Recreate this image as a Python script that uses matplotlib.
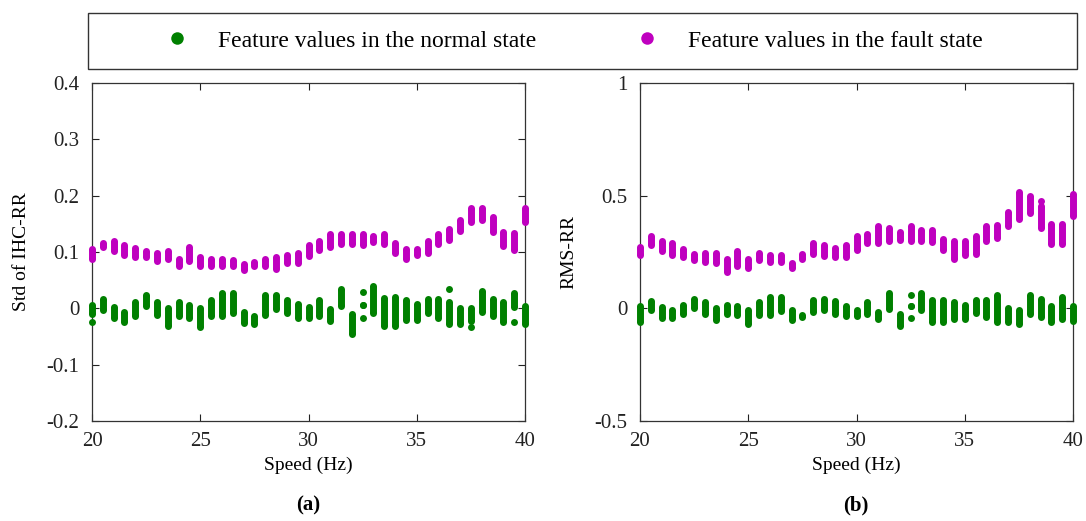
import matplotlib
matplotlib.use("Agg")
import matplotlib.pyplot as plt
from matplotlib.lines import Line2D
from matplotlib.patches import Rectangle

plt.rcParams["font.family"] = ["Liberation Serif", "DejaVu Serif"]

# speed points (Hz)
speeds = [20.0, 20.5, 21.0, 21.5, 22.0, 22.5, 23.0, 23.5, 24.0, 24.5,
          25.0, 25.5, 26.0, 26.5, 27.0, 27.5, 28.0, 28.5, 29.0, 29.5,
          30.0, 30.5, 31.0, 31.5, 32.0, 32.5, 33.0, 33.5, 34.0, 34.5,
          35.0, 35.5, 36.0, 36.5, 37.0, 37.5, 38.0, 38.5, 39.0, 39.5, 40.0]

# (a) Std of IHC-RR: per-speed spread of feature values
std_fault_lo = [0.088, 0.108, 0.102, 0.094, 0.091, 0.091, 0.084, 0.088, 0.075, 0.084,
                0.076, 0.076, 0.075, 0.076, 0.068, 0.076, 0.075, 0.070, 0.081, 0.081,
                0.093, 0.104, 0.109, 0.115, 0.115, 0.112, 0.118, 0.114, 0.098, 0.088,
                0.094, 0.098, 0.115, 0.122, 0.138, 0.153, 0.156, 0.136, 0.110, 0.104, 0.153]
std_fault_hi = [0.105, 0.116, 0.119, 0.113, 0.107, 0.101, 0.098, 0.102, 0.088, 0.109,
                0.092, 0.088, 0.088, 0.085, 0.079, 0.082, 0.088, 0.091, 0.095, 0.099,
                0.113, 0.119, 0.132, 0.132, 0.132, 0.132, 0.129, 0.132, 0.116, 0.105,
                0.105, 0.119, 0.132, 0.140, 0.156, 0.178, 0.178, 0.163, 0.135, 0.134, 0.178]
std_normal_lo = [-0.010, -0.003, -0.018, -0.024, -0.014, 0.004, -0.011, -0.032, -0.014, -0.018,
                 -0.034, -0.014, -0.014, -0.008, -0.026, -0.028, -0.011, -0.001, -0.008, -0.018,
                 -0.017, -0.014, -0.022, 0.004, -0.045, 0.006, -0.008, -0.032, -0.032, -0.020,
                 -0.020, -0.008, -0.017, -0.027, -0.028, -0.023, -0.007, -0.014, -0.025, 0.002, -0.027]
std_normal_hi = [0.006, 0.017, 0.002, -0.007, 0.011, 0.024, 0.011, 0.001, 0.011, 0.006,
                 0.001, 0.015, 0.028, 0.028, -0.007, -0.014, 0.024, 0.024, 0.015, 0.008,
                 0.002, 0.014, -0.002, 0.034, -0.010, 0.006, 0.040, 0.018, 0.020, 0.014,
                 0.008, 0.017, 0.017, 0.012, 0.001, 0.001, 0.030, 0.017, 0.012, 0.027, 0.004]
# isolated samples away from their group
std_normal_extra_x = [20.0, 32.5, 32.5, 36.5, 37.5, 39.5]
std_normal_extra_y = [-0.025, 0.029, -0.017, 0.034, -0.033, -0.024]

# (b) RMS-RR
rms_fault_lo = [0.235, 0.280, 0.254, 0.235, 0.228, 0.213, 0.206, 0.201, 0.161, 0.187,
                0.180, 0.213, 0.206, 0.206, 0.180, 0.220, 0.240, 0.231, 0.228, 0.226,
                0.260, 0.290, 0.290, 0.299, 0.305, 0.299, 0.299, 0.294, 0.258, 0.220,
                0.235, 0.240, 0.299, 0.313, 0.364, 0.398, 0.423, 0.358, 0.287, 0.287, 0.408]
rms_fault_hi = [0.272, 0.322, 0.297, 0.290, 0.263, 0.242, 0.246, 0.246, 0.219, 0.253,
                0.219, 0.246, 0.238, 0.238, 0.201, 0.242, 0.290, 0.282, 0.268, 0.282,
                0.322, 0.331, 0.364, 0.357, 0.337, 0.367, 0.349, 0.346, 0.308, 0.298,
                0.298, 0.322, 0.367, 0.371, 0.426, 0.515, 0.500, 0.455, 0.376, 0.376, 0.509]
rms_fault_extra_x = [38.5]
rms_fault_extra_y = [0.477]
rms_normal_lo = [-0.061, -0.009, -0.042, -0.042, -0.024, 0.003, -0.024, -0.053, -0.024, -0.031,
                 -0.068, -0.031, -0.031, -0.012, -0.050, -0.038, -0.016, -0.009, -0.024, -0.035,
                 -0.035, -0.024, -0.046, -0.002, -0.080, 0.010, -0.009, -0.061, -0.061, -0.046,
                 -0.046, -0.021, -0.038, -0.061, -0.061, -0.071, -0.024, -0.038, -0.061, -0.046, -0.056]
rms_normal_hi = [0.009, 0.031, 0.006, -0.009, 0.016, 0.041, 0.027, 0.001, 0.016, 0.009,
                 -0.009, 0.027, 0.050, 0.050, -0.009, -0.028, 0.038, 0.041, 0.031, 0.009,
                 -0.006, 0.027, -0.018, 0.068, -0.024, 0.010, 0.068, 0.036, 0.036, 0.027,
                 0.016, 0.036, 0.036, 0.060, 0.001, -0.006, 0.060, 0.041, 0.009, 0.050, 0.009]
rms_normal_extra_x = [32.5, 32.5]
rms_normal_extra_y = [0.059, -0.043]

GREEN = "#008000"
MAGENTA = "#BF00BF"
DOT = 5.0  # marker diameter in points


def draw_groups(ax, lo, hi, color, extra_x=(), extra_y=()):
    # each speed is a vertical stack of samples: bar between extremes + end dots
    ax.vlines(speeds, lo, hi, colors=color, linewidth=DOT, zorder=3, clip_on=False)
    ax.plot(speeds, lo, "o", color=color, ms=DOT, mew=0, zorder=3, clip_on=False)
    ax.plot(speeds, hi, "o", color=color, ms=DOT, mew=0, zorder=3, clip_on=False)
    if len(extra_x):
        ax.plot(extra_x, extra_y, "o", color=color, ms=DOT, mew=0, zorder=3, clip_on=False)


def style_axes(ax, ylim, yticks, yticklabels, ylabel):
    ax.set_xlim(20, 40)
    ax.set_ylim(*ylim)
    ax.set_xticks([20, 25, 30, 35, 40])
    ax.set_yticks(yticks)
    ax.set_yticklabels(yticklabels)
    ax.tick_params(direction="in", top=True, right=True, length=5, width=0.8,
                   labelsize=15, colors="#222222")
    ax.tick_params(axis="x", pad=8)
    ax.tick_params(axis="y", pad=9)
    for sp in ax.spines.values():
        sp.set_linewidth(0.9)
        sp.set_color("#333333")
    ax.set_xlabel("Speed (Hz)", fontsize=14, labelpad=4)
    ax.set_ylabel(ylabel, fontsize=14, labelpad=12)


fig = plt.figure(figsize=(10.86, 5.21), dpi=100)
ax_a = fig.add_axes([92 / 1086, 100 / 521, 433 / 1086, 338 / 521])
ax_b = fig.add_axes([640 / 1086, 100 / 521, 433 / 1086, 338 / 521])

draw_groups(ax_a, std_fault_lo, std_fault_hi, MAGENTA)
draw_groups(ax_a, std_normal_lo, std_normal_hi, GREEN, std_normal_extra_x, std_normal_extra_y)
style_axes(ax_a, (-0.2, 0.4), [-0.2, -0.1, 0, 0.1, 0.2, 0.3, 0.4],
           ["-0.2", "-0.1", "0", "0.1", "0.2", "0.3", "0.4"], "Std of IHC-RR")

draw_groups(ax_b, rms_fault_lo, rms_fault_hi, MAGENTA, rms_fault_extra_x, rms_fault_extra_y)
draw_groups(ax_b, rms_normal_lo, rms_normal_hi, GREEN, rms_normal_extra_x, rms_normal_extra_y)
style_axes(ax_b, (-0.5, 1.0), [-0.5, 0, 0.5, 1.0], ["-0.5", "0", "0.5", "1"], "RMS-RR")

fig.text(308 / 1086, 1 - 505 / 521, "(a)", ha="center", va="center", fontsize=15, fontweight="bold")
fig.text(856 / 1086, 1 - 505 / 521, "(b)", ha="center", va="center", fontsize=15, fontweight="bold")

# shared legend in a full-width frame above both panels
fig.patches.append(Rectangle((88 / 1086, 1 - 69 / 521), 989 / 1086, 56 / 521,
                             transform=fig.transFigure, fill=False,
                             edgecolor="#333333", linewidth=1.0))
handles = [
    Line2D([], [], linestyle="none", marker="o", color=GREEN, ms=9, mew=0),
    Line2D([], [], linestyle="none", marker="o", color=MAGENTA, ms=9, mew=0),
]
fig.legend(handles, ["Feature values in the normal state", "Feature values in the fault state"],
           loc="center", bbox_to_anchor=(574 / 1086, 1 - 41 / 521), ncol=2, frameon=False,
           fontsize=17, handletextpad=1.24, columnspacing=4.2, handlelength=1.0)

fig.savefig("out.png", dpi=100)
